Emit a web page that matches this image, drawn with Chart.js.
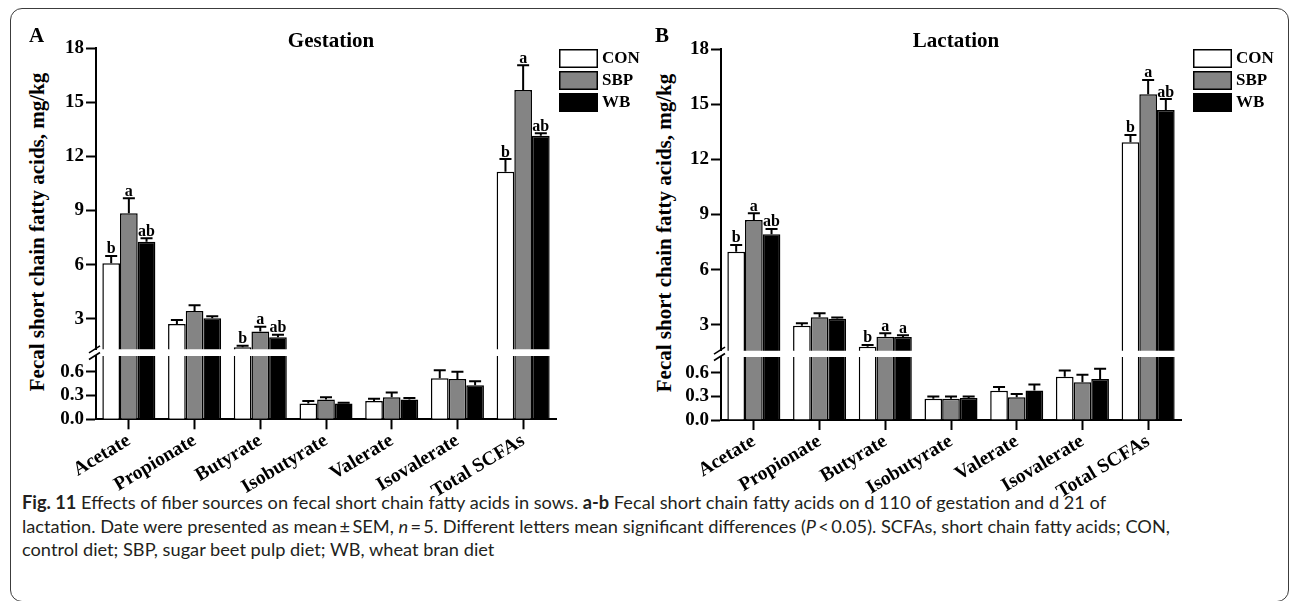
<!DOCTYPE html>
<html>
<head>
<meta charset="utf-8">
<script src="https://cdn.jsdelivr.net/npm/chart.js@4.4.1/dist/chart.umd.min.js"></script>
<style>
  html, body { margin:0; padding:0; background:#fff; }
  body { width:1290px; height:601px; position:relative; overflow:hidden; }
  #frame { position:absolute; left:10px; top:8px; width:1279px; height:594px; box-sizing:border-box;
           border:1.5px solid #3c3c3c; border-radius:12px; }
  .cv { position:absolute; }
  .ytitle { position:absolute; transform:translate(-50%,-50%) rotate(-90deg); white-space:nowrap;
            font-family:'Liberation Serif','Times New Roman',serif; font-weight:bold; font-size:21px; color:#000; }
  #caption { position:absolute; left:22px; top:491px; white-space:nowrap; color:#231f20;
             font-family:'Lato','Open Sans',sans-serif; font-size:16px; line-height:23.5px; }
</style>
</head>
<body>
<div id="frame"></div>
<div class="ytitle" style="left:37px;top:232px">Fecal short chain fatty acids, mg/kg</div>
<div class="ytitle" style="left:664px;top:233px">Fecal short chain fatty acids, mg/kg</div>
<div id="caption"><span class="ln" id="ln1"><b>Fig. 11</b> Effects of fiber sources on fecal short chain fatty acids in sows. <b>a-b</b> Fecal short chain fatty acids on d 110 of gestation and d 21 of</span><br><span class="ln">lactation. Date were presented as mean&#8201;±&#8201;SEM, <i>n</i>&#8201;=&#8201;5. Different letters mean significant differences (<i>P</i>&#8201;&lt;&#8201;0.05). SCFAs, short chain fatty acids; CON,</span><br><span class="ln">control diet; SBP, sugar beet pulp diet; WB, wheat bran diet</span></div>

<script>
// ---------------- data ----------------
const categories = ['Acetate','Propionate','Butyrate','Isobutyrate','Valerate','Isovalerate','Total SCFAs'];
const seriesNames = ['CON','SBP','WB'];

// Gestation (panel A)
const gestCON    = [6.08, 2.72, 1.43, 0.20, 0.23, 0.52, 11.15];
const gestSBP    = [8.85, 3.44, 2.30, 0.25, 0.28, 0.51, 15.67];
const gestWB     = [7.28, 3.04, 1.99, 0.20, 0.25, 0.43, 13.14];
const gestCONErr = [0.41, 0.22, 0.08, 0.03, 0.03, 0.10, 0.70];
const gestSBPErr = [0.83, 0.32, 0.27, 0.03, 0.06, 0.09, 1.38];
const gestWBErr  = [0.19, 0.11, 0.14, 0.01, 0.02, 0.05, 0.14];
const gestCONSig = ['b', '', 'b', '', '', '', 'b'];
const gestSBPSig = ['a', '', 'a', '', '', '', 'a'];
const gestWBSig  = ['ab','', 'ab','', '', '', 'ab'];

// Lactation (panel B)
const lactCON    = [6.98, 2.95, 1.82, 0.27, 0.37, 0.55, 12.93];
const lactSBP    = [8.71, 3.42, 2.36, 0.27, 0.29, 0.48, 15.54];
const lactWB     = [7.93, 3.33, 2.35, 0.28, 0.375, 0.52, 14.68];
const lactCONErr = [0.37, 0.14, 0.09, 0.03, 0.05, 0.08, 0.40];
const lactSBPErr = [0.36, 0.21, 0.19, 0.03, 0.04, 0.095, 0.78];
const lactWBErr  = [0.29, 0.07, 0.09, 0.02, 0.075, 0.13, 0.60];
const lactCONSig = ['b', '', 'b', '', '', '', 'b'];
const lactSBPSig = ['a', '', 'a', '', '', '', 'a'];
const lactWBSig  = ['ab','', 'a', '', '', '', 'ab'];

// axis ticks
const upperTicks = [3, 6, 9, 12, 15, 18];
const upperTickLabels = ['3', '6', '9', '12', '15', '18'];
const lowerTicks = [0, 0.3, 0.6];
const lowerTickLabels = ['0.0', '0.3', '0.6'];
const lowerMax = 0.8;
const upperMax = 18;

// ---------------- styling / layout ----------------
const SERIF = "'Liberation Serif','Times New Roman',serif";
const fills = ['#ffffff', '#848484', '#000000'];
const CW = 665;          // canvas width
const AXIS_X = 96;       // y-axis position inside canvas
const AREA_R = 556;      // right edge of plot area inside canvas

const panels = [
  { left:0,   values:[gestCON,gestSBP,gestWB], errs:[gestCONErr,gestSBPErr,gestWBErr], sig:[gestCONSig,gestSBPSig,gestWBSig],
    upMin:1.32, upTop:48, upBot:349.3, loTop:356, loBot:419.3, title:'Gestation', letter:'A',
    letterX:29, letterY:42, titleX:331, titleY:47, legendX:559, legendY:[49,71,93] },
  { left:625, values:[lactCON,lactSBP,lactWB], errs:[lactCONErr,lactSBPErr,lactWBErr], sig:[lactCONSig,lactSBPSig,lactWBSig],
    upMin:1.6, upTop:49, upBot:350.7, loTop:357, loBot:420, title:'Lactation', letter:'B',
    letterX:30, letterY:42, titleX:331, titleY:47, legendX:568, legendY:[49,71,93] }
];

function makeCanvas(left, top, w, h) {
  const c = document.createElement('canvas');
  c.width = w; c.height = h;
  c.className = 'cv';
  c.style.left = left + 'px'; c.style.top = top + 'px';
  c.style.width = w + 'px'; c.style.height = h + 'px';
  document.body.appendChild(c);
  return c;
}

function drawErrors(chart, p, seg) {
  const ctx = chart.ctx;
  const y = chart.scales.y;
  ctx.save();
  ctx.strokeStyle = '#000';
  ctx.fillStyle = '#000';
  ctx.lineWidth = 2;
  ctx.font = 'bold 16px ' + SERIF;
  ctx.textAlign = 'center';
  ctx.textBaseline = 'alphabetic';
  for (let s = 0; s < 3; s++) {
    const meta = chart.getDatasetMeta(s);
    p.values[s].forEach((v, i) => {
      const inUp = v > p.upMin;
      if ((seg === 'up') !== inUp) return;
      const bar = meta.data[i];
      const x = bar.x;
      const cap = bar.width * 0.34;
      const yv = y.getPixelForValue(v);
      const ye = y.getPixelForValue(v + p.errs[s][i]);
      ctx.beginPath();
      ctx.moveTo(x, yv); ctx.lineTo(x, ye);
      ctx.moveTo(x - cap, ye); ctx.lineTo(x + cap, ye);
      ctx.stroke();
      const L = p.sig[s][i];
      if (L) ctx.fillText(L, x, ye - 2.5);
    });
  }
  ctx.restore();
}

function baseOptions(padding) {
  return {
    responsive:false, animation:false, devicePixelRatio:1,
    layout:{ padding },
    plugins:{ legend:{display:false}, tooltip:{enabled:false}, title:{display:false} },
    datasets:{ bar:{ categoryPercentage:0.807, barPercentage:1.0 } }
  };
}

function yScale(min, max, ticks, labels, beginAtZero) {
  return {
    type:'linear', position:'left', min, max, beginAtZero,
    afterBuildTicks: s => { s.ticks = ticks.map(v => ({ value:v })); },
    afterFit: s => { s.width = AXIS_X; s.paddingTop = 0; s.paddingBottom = 0; },
    grid:{ display:true, drawOnChartArea:false, drawTicks:true, tickLength:10, tickWidth:2, tickColor:'#000' },
    border:{ display:true, color:'#000', width:2 },
    ticks:{ color:'#000', padding:2, font:{ family:SERIF, size:19, weight:'bold' },
            callback:(v, i) => labels[i] }
  };
}

function datasetsFor(p) {
  return seriesNames.map((name, s) => ({
    label:name, data:p.values[s], backgroundColor:fills[s],
    borderColor:'#000', borderWidth:1.5, borderSkipped:'start'
  }));
}

panels.forEach(p => {
  // ---------- upper segment ----------
  const upH = Math.ceil(p.upBot) + 1;
  const cu = makeCanvas(p.left, 0, CW, upH);
  new Chart(cu, {
    type:'bar',
    data:{ labels:categories, datasets:datasetsFor(p) },
    options:Object.assign(baseOptions({ left:0, right:CW - AREA_R, top:p.upTop, bottom:upH - p.upBot }), {
      scales:{
        x:{ type:'category', display:false, offset:true },
        y:yScale(p.upMin, upperMax, upperTicks, upperTickLabels, false)
      }
    }),
    plugins:[{
      id:'upperDeco',
      afterDatasetsDraw(chart) {
        drawErrors(chart, p, 'up');
        const ctx = chart.ctx;
        ctx.save();
        ctx.fillStyle = '#000';
        ctx.font = 'bold 21px ' + SERIF;
        ctx.textBaseline = 'alphabetic';
        ctx.textAlign = 'left';
        ctx.fillText(p.letter, p.letterX, p.letterY);
        ctx.textAlign = 'center';
        ctx.fillText(p.title, p.titleX, p.titleY);
        // legend
        ctx.font = 'bold 17px ' + SERIF;
        ctx.textAlign = 'left';
        ctx.textBaseline = 'middle';
        chart.data.datasets.forEach((ds, s) => {
          const y0 = p.legendY[s];
          ctx.fillStyle = ds.backgroundColor;
          ctx.fillRect(p.legendX, y0, 39, 19);
          ctx.lineWidth = 1.5;
          ctx.strokeStyle = '#000';
          ctx.strokeRect(p.legendX + 0.75, y0 + 0.75, 37.5, 17.5);
          ctx.fillStyle = '#000';
          ctx.fillText(ds.label, p.legendX + 43, y0 + 10);
        });
        ctx.restore();
      }
    }]
  });

  // ---------- lower segment ----------
  const loCanvasTop = p.loTop - 20;
  const loH = 180;
  const loBottomInner = p.loBot - loCanvasTop;
  const cl = makeCanvas(p.left, loCanvasTop, CW, loH);
  new Chart(cl, {
    type:'bar',
    data:{ labels:categories, datasets:datasetsFor(p) },
    options:Object.assign(baseOptions({ left:0, right:CW - AREA_R, top:20, bottom:0 }), {
      scales:{
        x:{
          type:'category', position:'bottom', offset:true,
          afterFit: s => { s.height = loH - loBottomInner; s.paddingLeft = 0; s.paddingRight = 0; },
          grid:{ display:true, offset:false, drawOnChartArea:false, drawTicks:true, tickLength:10, tickWidth:2, tickColor:'#000' },
          border:{ display:true, color:'#000', width:2 },
          ticks:{ autoSkip:false, minRotation:31, maxRotation:31, color:'#000', padding:0,
                  font:{ family:SERIF, size:19.5, weight:'bold' } }
        },
        y:yScale(0, lowerMax, lowerTicks, lowerTickLabels, true)
      }
    }),
    plugins:[{
      id:'lowerDeco',
      afterDatasetsDraw(chart) {
        drawErrors(chart, p, 'lo');
        const ctx = chart.ctx;
        const ax = chart.scales.y.right;
        ctx.save();
        ctx.strokeStyle = '#000';
        ctx.lineWidth = 1.6;
        [p.upBot - loCanvasTop, 20].forEach(yy => {
          ctx.beginPath();
          ctx.moveTo(ax - 7, yy + 3.5);
          ctx.lineTo(ax + 4, yy - 3.5);
          ctx.stroke();
        });
        ctx.restore();
      }
    }]
  });
});

// fit caption line width to the reference
(function () {
  const cap = document.getElementById('caption');
  const l1 = document.getElementById('ln1');
  const w = l1.getBoundingClientRect().width;
  if (w > 0) cap.style.fontSize = (16 * 1085 / w).toFixed(2) + 'px';
})();
</script>
</body>
</html>
